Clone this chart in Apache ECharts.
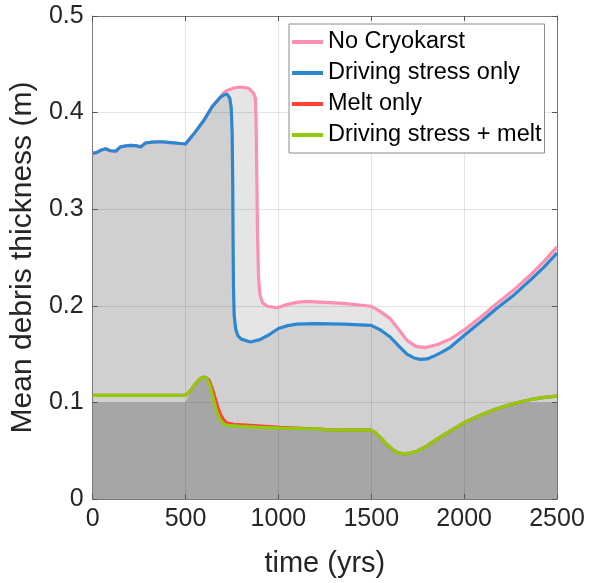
<!DOCTYPE html>
<html>
<head>
<meta charset="utf-8">
<script src="https://cdn.jsdelivr.net/npm/echarts@6/dist/echarts.min.js"></script>
<style>
  body { margin: 0; background: #fff; }
  #chart { width: 589px; height: 583px; }
</style>
</head>
<body>
<div id="chart"></div>
<script>
// [time (yrs), mean debris thickness (m)]
const noCryokarst = [
  [0, 0.358], [20, 0.3585], [43, 0.361], [70, 0.3625], [95, 0.3605], [124, 0.36], [150, 0.3645],
  [180, 0.3655], [204, 0.366], [240, 0.3655], [258, 0.3645], [285, 0.3685], [320, 0.3695],
  [366, 0.3698], [420, 0.369], [473, 0.368], [500, 0.3675], [545, 0.378], [599, 0.392],
  [643, 0.406], [688, 0.416], [700, 0.4195], [724, 0.423], [760, 0.4255], [796, 0.4265],
  [840, 0.425], [866, 0.42], [876, 0.415], [880, 0.39], [884, 0.33], [888, 0.27], [893, 0.23],
  [900, 0.212], [915, 0.203], [940, 0.1995], [993, 0.198], [1050, 0.2015], [1100, 0.2035],
  [1150, 0.2045], [1250, 0.2035], [1350, 0.2025], [1500, 0.1995], [1550, 0.194], [1602, 0.1867],
  [1650, 0.175], [1692, 0.1642], [1740, 0.158], [1790, 0.1567], [1857, 0.16], [1930, 0.166],
  [2007, 0.176], [2100, 0.19], [2176, 0.2025], [2270, 0.217], [2355, 0.2316], [2430, 0.246],
  [2500, 0.261]
];
const drivingStressOnly = [
  [0, 0.358], [20, 0.3585], [43, 0.361], [70, 0.3625], [95, 0.3605], [124, 0.36], [150, 0.3645],
  [180, 0.3655], [204, 0.366], [240, 0.3655], [258, 0.3645], [285, 0.3685], [320, 0.3695],
  [366, 0.3698], [420, 0.369], [473, 0.368], [500, 0.3675], [545, 0.378], [599, 0.392],
  [643, 0.406], [688, 0.416], [710, 0.4185], [724, 0.419], [738, 0.415], [746, 0.405],
  [751, 0.38], [754, 0.33], [756, 0.27], [758, 0.22], [762, 0.19], [770, 0.176], [782, 0.169],
  [800, 0.1655], [850, 0.1625], [900, 0.165], [950, 0.17], [1000, 0.1765], [1050, 0.1795],
  [1100, 0.181], [1200, 0.1815], [1350, 0.181], [1500, 0.1798], [1550, 0.175], [1602, 0.1677],
  [1650, 0.158], [1692, 0.15], [1730, 0.146], [1763, 0.1446], [1800, 0.145], [1835, 0.1477],
  [1880, 0.152], [1925, 0.157], [2014, 0.1715], [2100, 0.185], [2176, 0.1975], [2270, 0.2115],
  [2355, 0.2264], [2430, 0.24], [2500, 0.2547]
];
const meltOnly = [
  [0, 0.1073], [500, 0.1073], [530, 0.113], [560, 0.121], [585, 0.1255], [605, 0.1262],
  [625, 0.1235], [645, 0.114], [660, 0.104], [675, 0.094], [690, 0.087], [705, 0.082],
  [725, 0.0785], [760, 0.0772], [850, 0.0762], [950, 0.075], [1011, 0.0742], [1154, 0.073],
  [1200, 0.073], [1250, 0.0718], [1300, 0.0712], [1495, 0.0715], [1520, 0.069], [1548, 0.064],
  [1580, 0.057], [1611, 0.052], [1640, 0.048], [1674, 0.0468], [1710, 0.0475], [1746, 0.0495],
  [1800, 0.055], [1871, 0.064], [1940, 0.072], [2005, 0.0796], [2090, 0.087], [2176, 0.0935],
  [2270, 0.099], [2355, 0.1028], [2430, 0.1052], [2500, 0.1065]
];
const drivingStressMelt = [
  [0, 0.1073], [500, 0.1073], [530, 0.113], [560, 0.121], [585, 0.1255], [600, 0.1262],
  [615, 0.1245], [634, 0.116], [648, 0.105], [661, 0.095], [675, 0.087], [688, 0.0813],
  [705, 0.0777], [724, 0.0762], [796, 0.0751], [900, 0.0742], [1011, 0.0734], [1154, 0.0727],
  [1200, 0.0728], [1250, 0.0716], [1300, 0.0712], [1495, 0.0715], [1520, 0.069], [1548, 0.064],
  [1580, 0.057], [1611, 0.052], [1640, 0.048], [1674, 0.0468], [1710, 0.0475], [1746, 0.0495],
  [1800, 0.055], [1871, 0.064], [1940, 0.072], [2005, 0.0796], [2090, 0.087], [2176, 0.0935],
  [2270, 0.099], [2355, 0.1028], [2430, 0.1052], [2500, 0.1065]
];
// dark shaded band under the melt curves (flat at 0.1 outside the bump)
const meltShade = [
  [0, 0.1], [500, 0.1], [530, 0.113], [560, 0.121], [585, 0.1255], [605, 0.1262],
  [625, 0.1235], [645, 0.114], [660, 0.104], [675, 0.094], [690, 0.087], [705, 0.082],
  [725, 0.0785], [760, 0.0772], [850, 0.0762], [950, 0.075], [1011, 0.0742], [1154, 0.073],
  [1200, 0.073], [1250, 0.0718], [1300, 0.0712], [1495, 0.0715], [1520, 0.069], [1548, 0.064],
  [1580, 0.057], [1611, 0.052], [1640, 0.048], [1674, 0.0468], [1710, 0.0475], [1746, 0.0495],
  [1800, 0.055], [1871, 0.064], [1940, 0.072], [2005, 0.0796], [2090, 0.087], [2176, 0.0935],
  [2270, 0.099], [2300, 0.1], [2500, 0.1]
];
const xTicks = [0, 2500, 500];
const yTicks = [0, 0.5, 0.1];

const font = 'Liberation Sans, Arial, sans-serif';
const txt = '#262626';

function fill(data, color) {
  return {
    type: 'line', data: data, showSymbol: false, silent: true, z: 1,
    lineStyle: { width: 0 }, areaStyle: { color: color, opacity: 1 }
  };
}
function curve(name, data, color) {
  return {
    name: name, type: 'line', data: data, showSymbol: false, z: 3,
    itemStyle: { color: color },
    lineStyle: { color: color, width: 3.2 }
  };
}
function xAx(pos) {
  const main = pos === 'bottom';
  return {
    type: 'value', position: pos, min: xTicks[0], max: xTicks[1], interval: xTicks[2], z: 2,
    axisLine: { show: true, onZero: false, lineStyle: { color: '#7a7a7a', width: 1 } },
    axisTick: { show: true, inside: true, length: 5, lineStyle: { color: '#555' } },
    axisLabel: { show: main, fontSize: 25, color: txt, fontFamily: font, margin: 8,
      formatter: v => String(v) },
    splitLine: { show: main, lineStyle: { color: 'rgba(0,0,0,0.1)' } },
    name: main ? 'time (yrs)' : '', nameLocation: 'middle', nameGap: 50,
    nameTextStyle: { fontSize: 29, color: txt, fontFamily: font }
  };
}
function yAx(pos) {
  const main = pos === 'left';
  return {
    type: 'value', position: pos, min: yTicks[0], max: yTicks[1], interval: yTicks[2], z: 2,
    axisLine: { show: true, onZero: false, lineStyle: { color: '#7a7a7a', width: 1 } },
    axisTick: { show: true, inside: true, length: 5, lineStyle: { color: '#555' } },
    axisLabel: { show: main, fontSize: 25, color: txt, fontFamily: font, margin: 9 },
    splitLine: { show: main, lineStyle: { color: 'rgba(0,0,0,0.1)' } },
    name: main ? 'Mean debris thickness (m)' : '', nameLocation: 'middle', nameGap: 44,
    nameTextStyle: { fontSize: 30, color: txt, fontFamily: font }
  };
}

const chart = echarts.init(document.getElementById('chart'));
chart.setOption({
  animation: false,
  grid: { left: 92, right: 32, top: 16, bottom: 84 },
  xAxis: [xAx('bottom'), xAx('top')],
  yAxis: [yAx('left'), yAx('right')],
  legend: {
    orient: 'vertical', left: 289, top: 24,
    data: ['No Cryokarst', 'Driving stress only', 'Melt only', 'Driving stress + melt'],
    icon: 'rect', itemWidth: 31, itemHeight: 4, itemGap: 5,
    padding: [5, 3, 5, 3],
    borderColor: '#8a8a8a', borderWidth: 1, backgroundColor: '#fff',
    textStyle: { fontSize: 23.5, color: '#000', fontFamily: font, lineHeight: 26 }
  },
  series: [
    fill(noCryokarst, '#e5e5e5'),
    fill(drivingStressOnly, '#d0d0d0'),
    fill(meltShade, '#a6a6a6'),
    curve('No Cryokarst', noCryokarst, '#ff8fb1'),
    curve('Driving stress only', drivingStressOnly, '#2c87d1'),
    curve('Melt only', meltOnly, '#ff4436'),
    curve('Driving stress + melt', drivingStressMelt, '#8fcb0e')
  ]
});
</script>
</body>
</html>
